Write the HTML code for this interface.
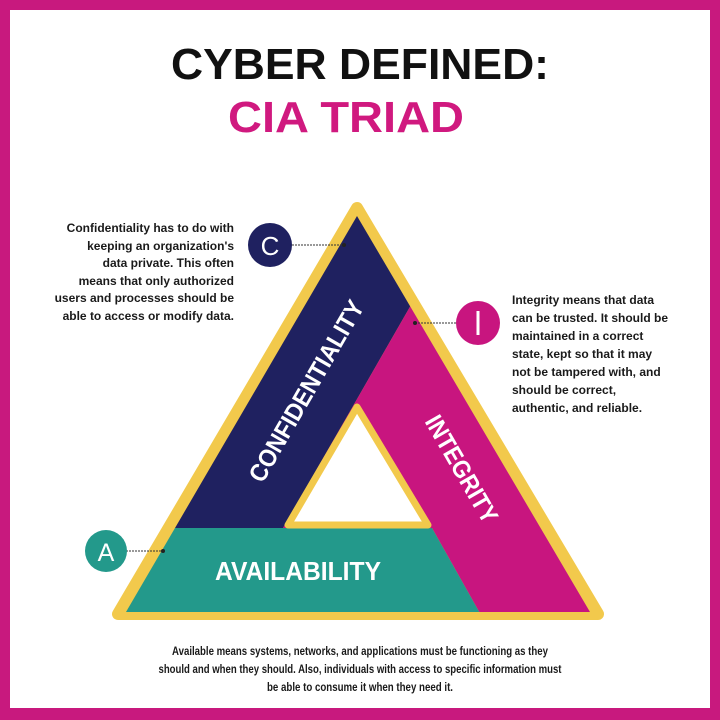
<!DOCTYPE html>
<html><head><meta charset="utf-8"><style>
html,body{margin:0;padding:0;background:#fff}
svg{display:block}
text{font-family:"Liberation Sans",sans-serif}
</style></head><body>
<svg width="720" height="720" viewBox="0 0 720 720" xmlns="http://www.w3.org/2000/svg">
<defs>
<clipPath id="tri"><polygon points="357,216 126,612 590,612" stroke-linejoin="round"/></clipPath>
</defs>
<rect x="0" y="0" width="720" height="720" fill="#c8197e"/>
<rect x="10" y="10" width="700" height="698" fill="#fff"/>
<text x="360" y="79" text-anchor="middle" font-size="44" font-weight="bold" fill="#111" textLength="378" lengthAdjust="spacingAndGlyphs">CYBER DEFINED:</text>
<text x="346" y="132" text-anchor="middle" font-size="44" font-weight="bold" fill="#d0197f" textLength="236" lengthAdjust="spacingAndGlyphs">CIA TRIAD</text>

<polygon points="357,208 118,614 598,614" fill="#f2c94c" stroke="#f2c94c" stroke-width="12" stroke-linejoin="round"/>
<g clip-path="url(#tri)">
<polygon points="0,150 500,150 283,528 0,528" fill="#1f2160"/>
<polygon points="500,150 720,150 720,640 495,640 432,528 283,528" fill="#c8157f"/>
<polygon points="0,528 432,528 495,640 0,640" fill="#23998b"/>
</g>
<polygon points="357,407 288,525 428,525" fill="#fff" stroke="#f2c94c" stroke-width="7" stroke-linejoin="round"/>

<text transform="translate(308,392) rotate(-60)" text-anchor="middle" dominant-baseline="middle" font-size="25" font-weight="bold" fill="#fff" textLength="205" lengthAdjust="spacingAndGlyphs">CONFIDENTIALITY</text>
<text transform="translate(460,470) rotate(60)" text-anchor="middle" dominant-baseline="middle" font-size="25" font-weight="bold" fill="#fff" textLength="120" lengthAdjust="spacingAndGlyphs">INTEGRITY</text>
<text x="298" y="580" text-anchor="middle" font-size="26" font-weight="bold" fill="#fff" textLength="166" lengthAdjust="spacingAndGlyphs">AVAILABILITY</text>

<line x1="292" y1="245" x2="344" y2="245" stroke="#333" stroke-width="1" stroke-dasharray="2,1"/>
<circle cx="344" cy="245" r="2" fill="#222"/>
<circle cx="270" cy="245" r="22" fill="#1f2160"/>
<text x="270" y="255" text-anchor="middle" font-size="26" fill="#fff">C</text>

<line x1="415" y1="323" x2="465" y2="323" stroke="#333" stroke-width="1" stroke-dasharray="2,1"/>
<circle cx="415" cy="323" r="2" fill="#222"/>
<circle cx="478" cy="323" r="22" fill="#c8157f"/>
<rect x="476.5" y="311" width="3" height="24" fill="#fff"/>

<line x1="120" y1="551" x2="163" y2="551" stroke="#333" stroke-width="1" stroke-dasharray="2,1"/>
<circle cx="163" cy="551" r="2" fill="#222"/>
<circle cx="106" cy="551" r="21" fill="#23998b"/>
<text x="106" y="561" text-anchor="middle" font-size="25" fill="#fff">A</text>

<g font-size="12" font-weight="bold" fill="#1a1a1a" text-anchor="end">
<text x="234" y="232">Confidentiality has to do with</text>
<text x="234" y="250">keeping an organization's</text>
<text x="234" y="267">data private. This often</text>
<text x="234" y="285">means that only authorized</text>
<text x="234" y="302">users and processes should be</text>
<text x="234" y="320">able to access or modify data.</text>
</g>
<g font-size="12" font-weight="bold" fill="#1a1a1a">
<text x="512" y="304">Integrity means that data</text>
<text x="512" y="322">can be trusted. It should be</text>
<text x="512" y="340">maintained in a correct</text>
<text x="512" y="358">state, kept so that it may</text>
<text x="512" y="376">not be tampered with, and</text>
<text x="512" y="394">should be correct,</text>
<text x="512" y="412">authentic, and reliable.</text>
</g>
<g font-size="12" font-weight="bold" fill="#1a1a1a" text-anchor="middle">
<text x="360" y="655" textLength="376" lengthAdjust="spacingAndGlyphs">Available means systems, networks, and applications must be functioning as they</text>
<text x="360" y="673" textLength="403" lengthAdjust="spacingAndGlyphs">should and when they should. Also, individuals with access to specific information must</text>
<text x="360" y="691" textLength="186" lengthAdjust="spacingAndGlyphs">be able to consume it when they need it.</text>
</g>
</svg>
</body></html>
